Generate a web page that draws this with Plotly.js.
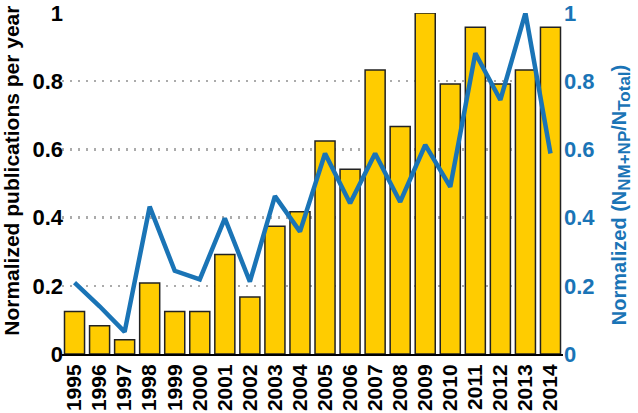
<!DOCTYPE html>
<html>
<head>
<meta charset="utf-8">
<script src="https://cdn.plot.ly/plotly-3.0.1.min.js"></script>
<style>html,body{margin:0;padding:0;background:#fff;}#chart{width:638px;height:413px;}</style>
</head>
<body>
<div id="chart"></div>
<script>
const years = ["1995","1996","1997","1998","1999","2000","2001","2002","2003","2004","2005","2006","2007","2008","2009","2010","2011","2012","2013","2014"];
const publications = [0.125,0.083,0.042,0.208,0.125,0.125,0.292,0.167,0.375,0.417,0.625,0.542,0.833,0.667,1.0,0.792,0.958,0.792,0.833,0.958];
const ratio = [0.209,0.14,0.065,0.432,0.244,0.219,0.398,0.212,0.463,0.359,0.588,0.442,0.588,0.446,0.613,0.49,0.882,0.745,1.0,0.588];
const tickVals = [0,0.2,0.4,0.6,0.8,1];
const tickText = ["0","0.2","0.4","0.6","0.8","1"];

const BLUE = "#1a74b6";
const FONT = "Liberation Sans, Arial, sans-serif";

const traces = [
  {
    type: "bar", x: years, y: publications,
    marker: {color: "#ffcc00", line: {color: "#222", width: 1.5}},
    hoverinfo: "skip", yaxis: "y"
  },
  {
    type: "scatter", mode: "lines", x: years, y: ratio, yaxis: "y2",
    line: {color: BLUE, width: 4.5}, cliponaxis: false, hoverinfo: "skip"
  }
];

const layout = {
  width: 638, height: 413,
  margin: {l: 62, r: 75, t: 13, b: 59},
  paper_bgcolor: "#fff", plot_bgcolor: "#fff",
  showlegend: false,
  bargap: 0.2,
  font: {family: FONT, weight: "bold", color: "#000"},
  xaxis: {
    type: "category", tickangle: -90,
    tickfont: {family: FONT, size: 21, weight: "bold", color: "#000"},
    showline: true, linecolor: "#000", linewidth: 2,
    ticks: "", showgrid: false, zeroline: false
  },
  yaxis: {
    range: [0, 1], tickvals: tickVals, ticktext: tickText,
    tickfont: {family: FONT, size: 22, weight: "bold", color: "#000"},
    showgrid: true, gridcolor: "#ababab", griddash: "2px,6px", gridwidth: 2.5,
    zeroline: false, showline: false, ticks: "", ticklabelstandoff: -2
  },
  yaxis2: {
    overlaying: "y", side: "right", range: [0, 1],
    tickvals: tickVals, ticktext: tickText,
    tickfont: {family: FONT, size: 22, weight: "bold", color: BLUE},
    showgrid: false, zeroline: false, showline: false, ticks: "", ticklabelstandoff: 0
  },
  annotations: [
    {
      xref: "paper", yref: "paper", x: -0.1, y: 0.537, xanchor: "center", yanchor: "middle",
      textangle: -90, showarrow: false,
      text: "Normalized publications per year",
      font: {family: FONT, size: 21, weight: "bold", color: "#000"}
    },
    {
      xref: "paper", yref: "paper", x: 1.116, y: 0.466, xanchor: "center", yanchor: "middle",
      textangle: -90, showarrow: false,
      text: "Normalized (N<sub><span style=\"font-size:17px\">NM+NP</span></sub>/N<sub><span style=\"font-size:17px\">Total</span></sub>)",
      font: {family: FONT, size: 20, weight: "bold", color: BLUE}
    }
  ]
};

Plotly.newPlot("chart", traces, layout, {displayModeBar: false, staticPlot: true});
</script>
</body>
</html>
